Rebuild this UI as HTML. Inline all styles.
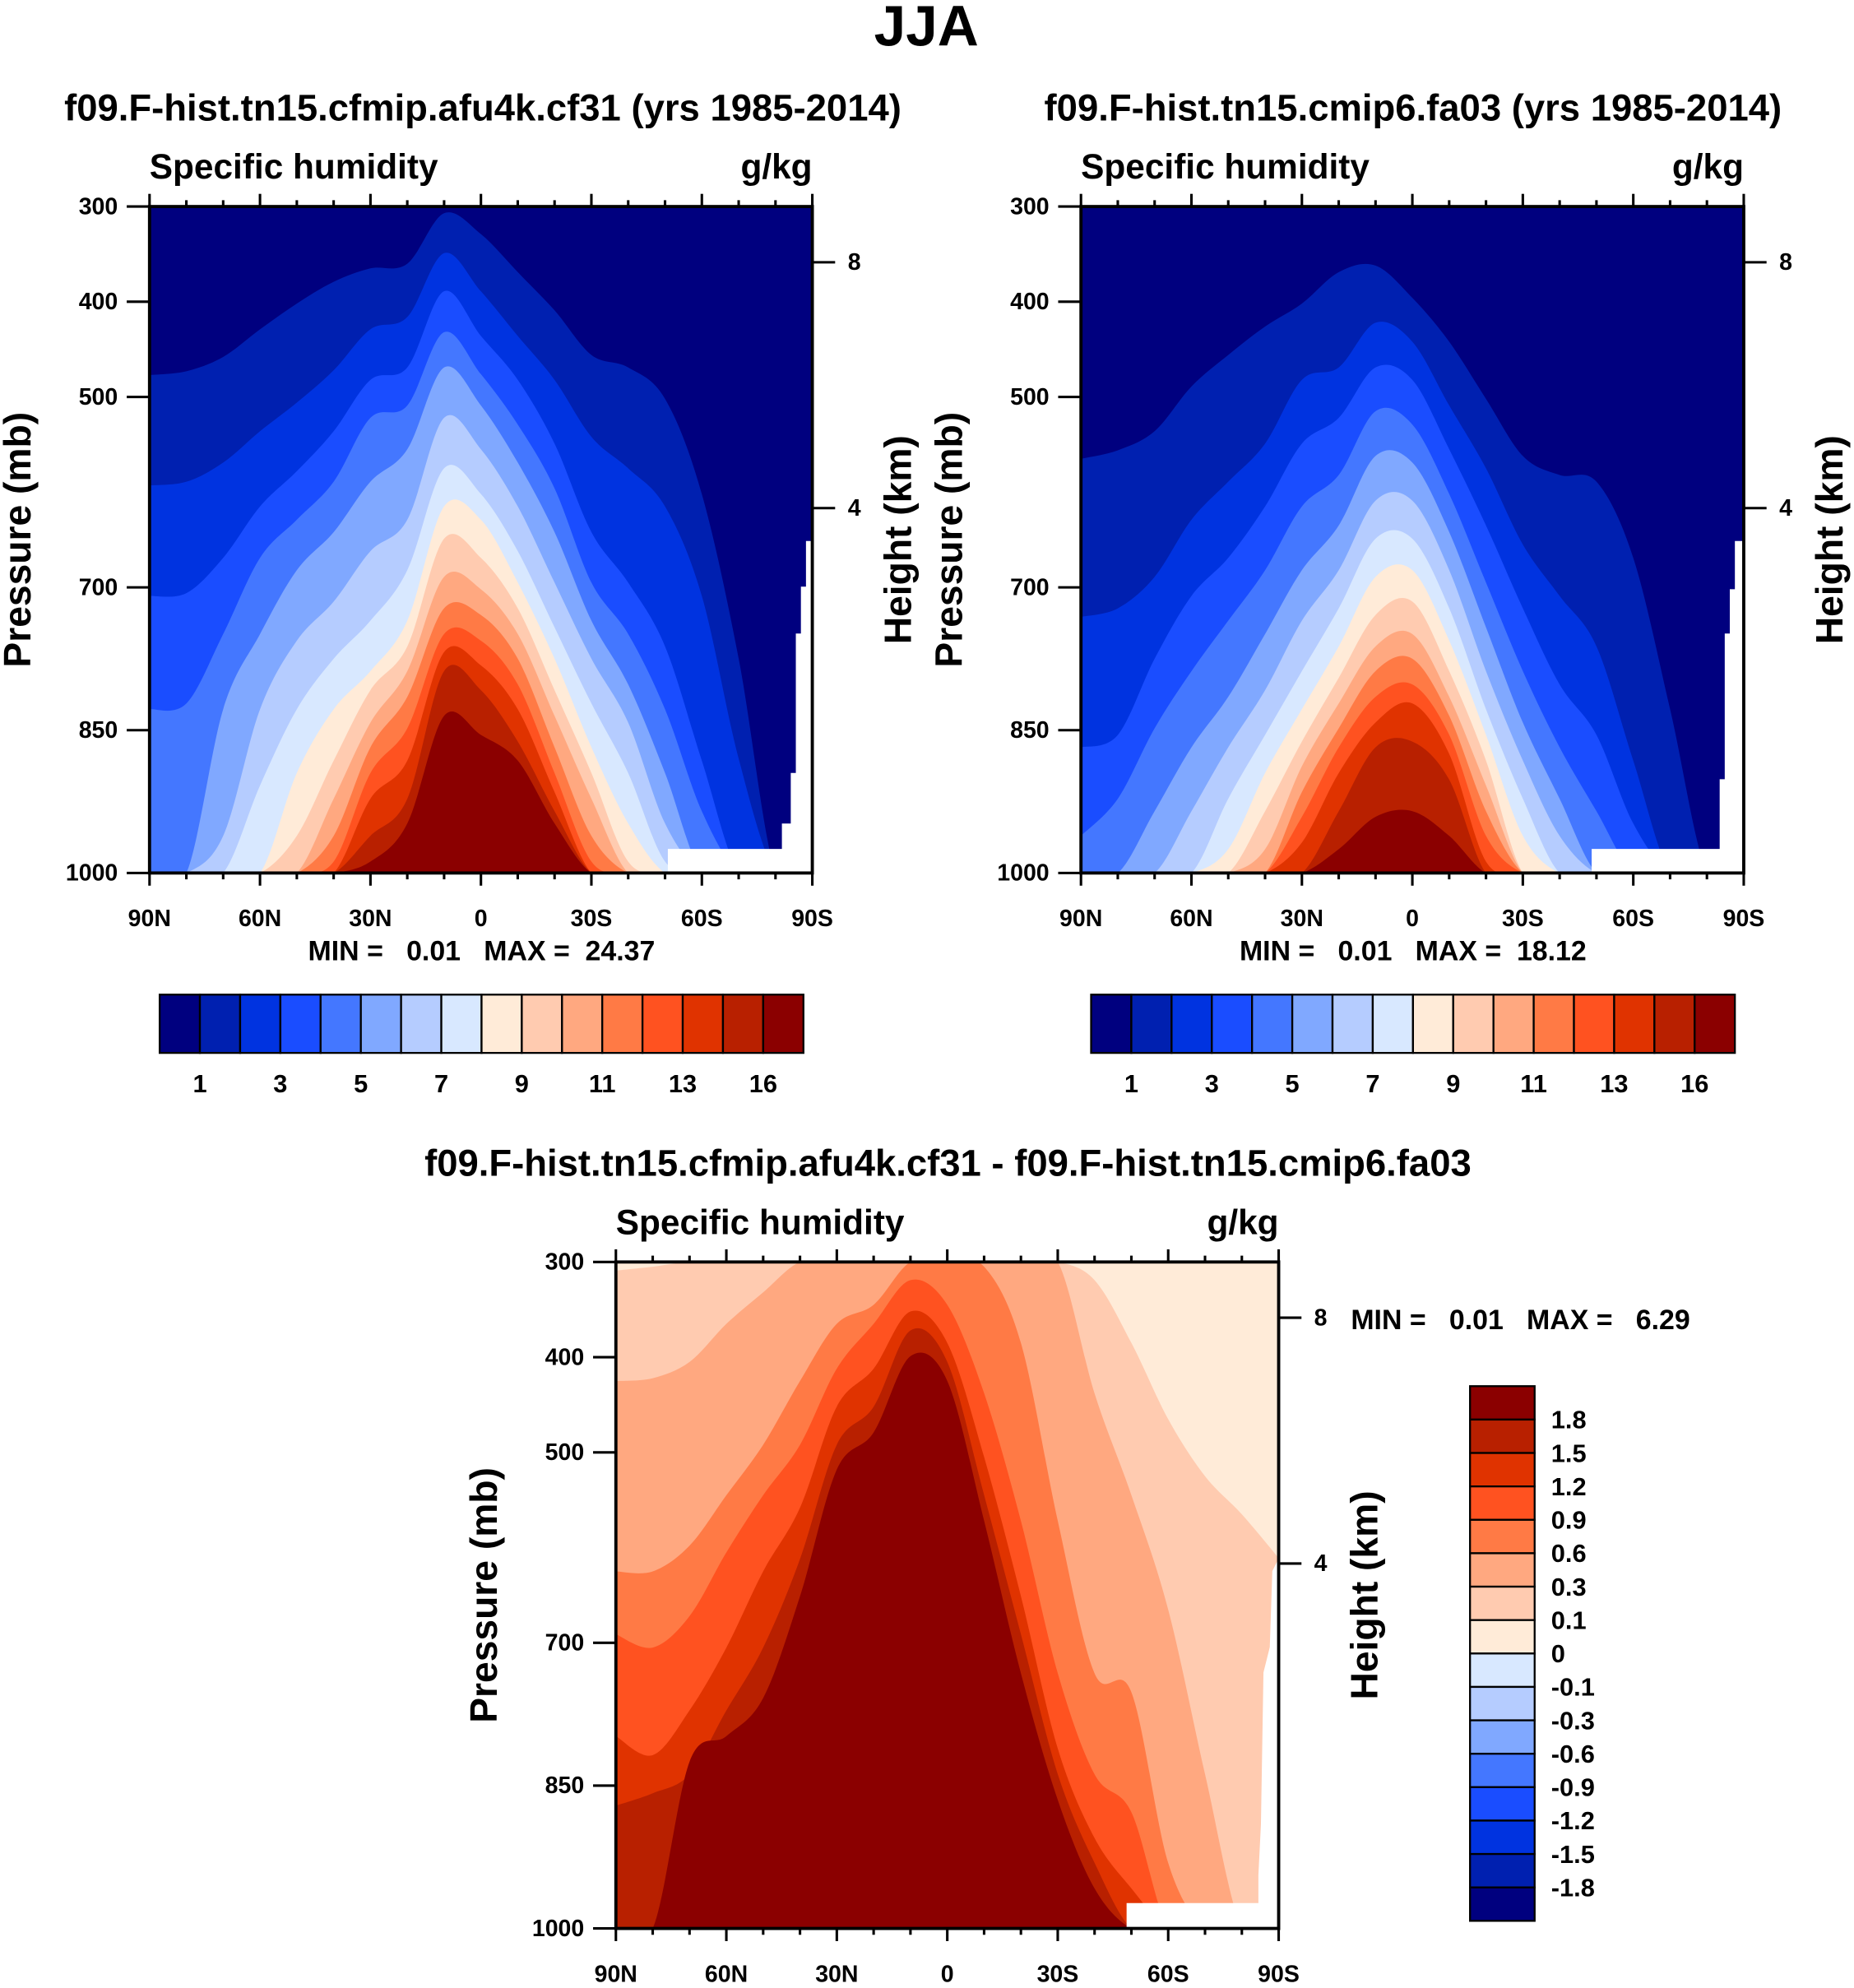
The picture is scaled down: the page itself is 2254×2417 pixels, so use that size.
<!DOCTYPE html>
<html><head><meta charset="utf-8"><title>JJA Specific humidity</title>
<style>html,body{margin:0;padding:0;background:#fff}svg{display:block}text{font-family:"Liberation Sans",Arial,sans-serif;font-weight:bold;fill:#000;white-space:pre}</style></head>
<body>
<svg id="fig" xmlns="http://www.w3.org/2000/svg" width="2254" height="2417" viewBox="0 0 1463 1569" preserveAspectRatio="none"></svg>
<script>
// ---------- data ----------
const lats = [90,80,70,60,50,40,30,20,10,0,-10,-20,-30,-40,-50,-60,-70,-80,-90];
const absColors = ['#00007f','#0020b0','#0033e0','#1a4dff','#4477ff','#80a8ff','#b5ccff','#d8e8ff','#ffebd8','#ffcbb0','#ffa880','#ff7a45','#ff5220','#e03300','#b82000','#8b0000'];
const absLabels = ['1','3','5','7','9','11','13','16'];
const diffLabels = ['1.8','1.5','1.2','0.9','0.6','0.3','0.1','0','-0.1','-0.3','-0.6','-0.9','-1.2','-1.5','-1.8'];
// top pressure (mb) of region >= each level, per latitude
const leftLevels = [
 [477,473,458,429,402,379,365,360,307,329,369,409,456,469,502,602,775,1000,1000],
 [593,589,569,536,506,472,429,416,349,389,436,482,542,575,615,709,880,1000,1000],
 [709,706,669,615,578,536,482,469,389,436,482,549,642,695,762,882,1000,1000,1000],
 [828,822,749,669,629,589,522,509,432,476,529,596,695,749,828,935,1000,1000,1000],
 [1000,1000,828,749,682,642,589,555,469,509,569,642,735,802,895,1000,1000,1000,1000],
 [1000,1000,961,828,756,715,662,629,522,555,615,695,775,842,948,1000,1000,1000,1000],
 [1000,1000,1000,908,828,775,735,682,575,602,662,742,822,895,988,1000,1000,1000,1000],
 [1000,1000,1000,1000,895,828,788,735,615,629,695,775,868,948,1000,1000,1000,1000,1000],
 [1000,1000,1000,1000,961,882,808,762,649,669,722,808,895,988,1000,1000,1000,1000,1000],
 [1000,1000,1000,1000,1000,922,842,788,689,702,749,835,922,1000,1000,1000,1000,1000,1000],
 [1000,1000,1000,1000,1000,961,868,815,722,729,775,868,961,1000,1000,1000,1000,1000,1000],
 [1000,1000,1000,1000,1000,988,895,848,749,756,802,895,988,1000,1000,1000,1000,1000,1000],
 [1000,1000,1000,1000,1000,1000,922,882,768,782,828,915,1000,1000,1000,1000,1000,1000,1000],
 [1000,1000,1000,1000,1000,1000,961,922,788,808,862,935,1000,1000,1000,1000,1000,1000,1000],
 [1000,1000,1000,1000,1000,1000,988,948,835,855,882,948,1000,1000,1000,1000,1000,1000,1000]
];
const rightLevels = [
 [565,556,536,489,456,426,402,369,362,396,442,502,562,582,589,669,828,1000,1000],
 [731,722,689,629,589,549,482,469,422,442,509,575,655,709,762,882,1000,1000,1000],
 [868,855,775,709,669,615,549,522,469,482,555,635,722,802,855,948,1000,1000,1000],
 [961,922,848,788,735,682,615,582,515,529,602,695,788,868,935,1000,1000,1000,1000],
 [1000,1000,935,868,815,749,682,635,562,569,642,742,842,922,1000,1000,1000,1000,1000],
 [1000,1000,1000,935,868,808,735,682,609,609,682,788,882,961,1000,1000,1000,1000,1000],
 [1000,1000,1000,1000,922,855,788,722,649,649,722,828,922,1000,1000,1000,1000,1000,1000],
 [1000,1000,1000,1000,975,895,828,762,689,682,756,855,961,1000,1000,1000,1000,1000,1000],
 [1000,1000,1000,1000,1000,935,862,795,729,715,788,882,1000,1000,1000,1000,1000,1000,1000],
 [1000,1000,1000,1000,1000,975,888,822,762,749,815,908,1000,1000,1000,1000,1000,1000,1000],
 [1000,1000,1000,1000,1000,1000,915,848,788,775,835,935,1000,1000,1000,1000,1000,1000,1000],
 [1000,1000,1000,1000,1000,1000,941,868,815,802,855,961,1000,1000,1000,1000,1000,1000,1000],
 [1000,1000,1000,1000,1000,1000,968,895,842,822,875,988,1000,1000,1000,1000,1000,1000,1000],
 [1000,1000,1000,1000,1000,1000,1000,935,868,862,902,1000,1000,1000,1000,1000,1000,1000,1000],
 [1000,1000,1000,1000,1000,1000,1000,975,941,935,961,1000,1000,1000,1000,1000,1000,1000,1000]
];
// difference panel: levels 0.1 .. 1.8 (color index 9..15), base color index 8
const diffLevels = [
 [309,305,300,300,300,300,300,300,300,300,300,300,300,319,385,465,525,565,611],
 [425,422,405,365,332,300,300,300,300,300,300,300,300,438,545,665,838,1000,1000],
 [625,625,598,545,492,425,365,345,300,300,305,385,572,732,752,931,1000,1000,1000],
 [691,705,672,605,545,492,412,365,319,345,438,572,732,838,878,1000,1000,1000,1000],
 [798,818,771,705,625,558,452,412,352,385,505,651,811,905,958,1000,1000,1000,1000],
 [871,858,838,771,705,612,492,452,372,405,545,691,838,931,1000,1000,1000,1000,1000],
 [1000,1000,825,798,758,651,518,479,399,425,572,732,865,958,1000,1000,1000,1000,1000]
];
const pTicks = [300,400,500,700,850,1000];
const xTickLabels = ['90N','60N','30N','0','30S','60S','90S'];
const hTicks = [{k:8,y:207},{k:4,y:401}];

// ---------- drawing ----------
const NS='http://www.w3.org/2000/svg';
const svg=document.getElementById('fig');
function el(tag,attrs,parent){const e=document.createElementNS(NS,tag);for(const k in attrs)e.setAttribute(k,attrs[k]);(parent||svg).appendChild(e);return e;}
function txt(s,x,y,size,anchor,parent,extra){const t=el('text',Object.assign({x:x,y:y,'font-size':size,'text-anchor':anchor||'middle'},extra||{}),parent);t.textContent=s;return t;}

function drawPanel(px,py,levels,baseIdx,whitePts,name){
  const W=523,H=526;
  const g=el('g',{});
  
  
  const xs=lat=>px+(90-lat)/180*W;
  const ys=p=>py+(p-300)/700*H;
  const cid='clip-'+name;
  const cp=el('clipPath',{id:cid},g);el('rect',{x:px,y:py,width:W,height:H},cp);
  const fg=el('g',{'clip-path':'url(#'+cid+')'},g);
  const bg=el('rect',{x:px,y:py,width:W,height:H,fill:absColors[baseIdx]},fg);
  
  
  levels.forEach((row,i)=>{
    const pts=row.map((p,j)=>[xs(lats[j]),ys(p)]);
    let d='M'+pts[0][0]+','+(py+H+2)+' L'+pts[0][0]+','+pts[0][1];
    for(let j=0;j<pts.length-1;j++){
      const p0=pts[Math.max(0,j-1)],p1=pts[j],p2=pts[j+1],p3=pts[Math.min(pts.length-1,j+2)];
      const c1=[p1[0]+(p2[0]-p0[0])/6,p1[1]+(p2[1]-p0[1])/6];
      const c2=[p2[0]-(p3[0]-p1[0])/6,p2[1]-(p3[1]-p1[1])/6];
      d+=' C'+c1[0].toFixed(1)+','+c1[1].toFixed(1)+' '+c2[0].toFixed(1)+','+c2[1].toFixed(1)+' '+p2[0].toFixed(1)+','+p2[1].toFixed(1);
    }
    d+=' L'+pts[pts.length-1][0]+','+(py+H+2)+' Z';
    const path=el('path',{d:d,fill:absColors[baseIdx+1+i]},fg);
    
    
  });
  const wp=el('polygon',{points:whitePts.map(q=>(px+q[0])+','+(py+q[1])).join(' '),fill:'#fff'},fg);
  
  
  const fr=el('rect',{x:px,y:py,width:W,height:H,fill:'none',stroke:'#000','stroke-width':2.5},g);
  
  
  for(let lat=90;lat>=-90;lat-=10){
    const x=xs(lat),major=(lat%30===0),L=major?10:5;
    el('line',{x1:x,y1:py,x2:x,y2:py-L,stroke:'#000','stroke-width':2},g);
    el('line',{x1:x,y1:py+H,x2:x,y2:py+H+L,stroke:'#000','stroke-width':2},g);
  }
  xTickLabels.forEach((s,i)=>{const t=txt(s,px+i*W/6,py+H+42,18.5,'middle',g);
    
    });
  pTicks.forEach(p=>{const y=ys(p);el('line',{x1:px,y1:y,x2:px-18,y2:y,stroke:'#000','stroke-width':2},g);
    const t=txt(String(p),px-25,y+6,18.5,'end',g);
    
    });
  hTicks.forEach(h=>{const y=py+(h.y-163);el('line',{x1:px+W,y1:y,x2:px+W+18,y2:y,stroke:'#000','stroke-width':2},g);
    const t=txt(String(h.k),px+W+28,y+6,18.5,'start',g);
    
    });
  const a=txt('Specific humidity',px,py-22,27.5,'start',g);
  
  
  const u=txt('g/kg',px+W,py-22,27.5,'end',g);
  
  
  const yt=txt('Pressure (mb)',0,0,30,'middle',g,{transform:'translate('+(px-94)+','+(py+263)+') rotate(-90)'});
  
  
  const ht=txt('Height (km)',0,0,30,'middle',g,{transform:'translate('+(px+W+78)+','+(py+263)+') rotate(-90)'});
  
  
  return g;
}
const whiteAbs=[[523,264],[518,264],[518,300],[514,300],[514,337],[510,337],[510,447],[506,447],[506,487],[499,487],[499,507],[409,507],[409,527],[523,527]];
const whiteAbs2=[[523,264],[516,264],[516,302],[512,302],[512,337],[508,337],[508,452],[504,452],[504,507],[403,507],[403,527],[523,527]];
const whiteDiff=[[523,234],[518,244],[516,304],[511,324],[509,444],[507,484],[507,506],[403,506],[403,527],[523,527]];

const t0=txt('JJA',731,36,45,'middle');



drawPanel(118,163,leftLevels,0,whiteAbs,'left-panel');
drawPanel(853,163,rightLevels,0,whiteAbs2,'right-panel');
drawPanel(486,996,diffLevels,8,whiteDiff,'diff-panel');

const s1=txt('f09.F-hist.tn15.cfmip.afu4k.cf31 (yrs 1985-2014)',381,95,29.5);


const s2=txt('f09.F-hist.tn15.cmip6.fa03 (yrs 1985-2014)',1115,95,29.5);


const s3=txt('f09.F-hist.tn15.cfmip.afu4k.cf31 - f09.F-hist.tn15.cmip6.fa03',748,928,29.5);


const m1=txt('MIN =   0.01   MAX =  24.37',380,758,22,'middle');


const m2=txt('MIN =   0.01   MAX =  18.12',1115,758,22,'middle');


const m3=txt('MIN =   0.01   MAX =   6.29',1066,1049,22,'start');



function hColorbar(x0,name){
  const g=el('g',{});
  
  
  const bw=508/16;
  absColors.forEach((c,i)=>{const r=el('rect',{x:x0+i*bw,y:785,width:bw,height:46,fill:c,stroke:'#000','stroke-width':1.5},g);
    
    });
  absLabels.forEach((s,i)=>{const t=txt(s,x0+bw*(2*i+1),862,20,'middle',g);
    
    });
}
hColorbar(126,'left-colorbar');
hColorbar(861,'right-colorbar');

(function(){
  const g=el('g',{});
  
  
  const bh=422/16;
  const rev=absColors.slice().reverse();
  rev.forEach((c,i)=>{const r=el('rect',{x:1160,y:1094+i*bh,width:51,height:bh,fill:c,stroke:'#000','stroke-width':1.5},g);
    
    });
  diffLabels.forEach((s,i)=>{const t=txt(s,1224,1094+bh*(i+1)+7,20,'start',g);
    
    });
})();
</script>
</body></html>
